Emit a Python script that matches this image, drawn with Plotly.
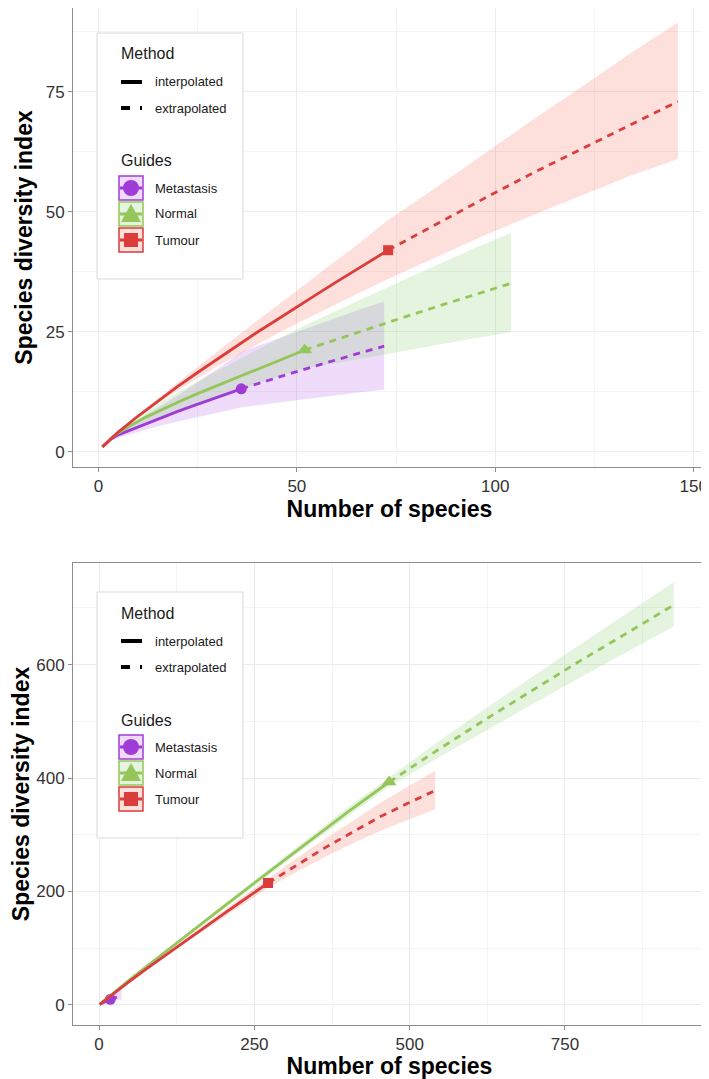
import plotly.graph_objects as go

# ---- top panel data ----
t_met_x_int = [1, 3, 5, 8, 12, 16, 20, 24, 28, 32, 36]
t_met_y_int = [1, 2.5, 3.5, 4.5, 5.9, 7.2, 8.4, 9.6, 10.8, 11.9, 13.1]
t_met_lo_int = [1, 2.2, 2.9, 3.6, 4.6, 5.5, 6.3, 7.1, 7.8, 8.5, 9.2]
t_met_hi_int = [1, 2.8, 4.1, 5.6, 7.6, 9.6, 11.7, 13.9, 16.1, 18.4, 20.8]
t_met_x_ext = [36, 42, 48, 54, 60, 66, 72]
t_met_y_ext = [13.1, 14.7, 16.2, 17.7, 19.2, 20.6, 22.0]
t_met_lo_ext = [9.2, 9.9, 10.6, 11.2, 11.8, 12.4, 12.9]
t_met_hi_ext = [20.8, 22.6, 24.4, 26.2, 28.0, 29.7, 31.3]

t_nor_x_int = [1, 3, 5, 8, 12, 16, 20, 25, 30, 35, 40, 46, 52]
t_nor_y_int = [1, 2.6, 3.9, 5.4, 7.2, 8.8, 10.3, 12.1, 13.8, 15.5, 17.2, 19.2, 21.2]
t_nor_lo_int = [1, 2.3, 3.3, 4.5, 6.0, 7.3, 8.5, 10.0, 11.4, 12.8, 14.2, 15.8, 17.4]
t_nor_hi_int = [1, 2.9, 4.5, 6.3, 8.5, 10.5, 12.4, 14.7, 16.9, 19.1, 21.3, 23.8, 26.3]
t_nor_x_ext = [52, 61, 70, 78, 87, 95, 104]
t_nor_y_ext = [21.2, 23.7, 26.2, 28.3, 30.7, 32.8, 35.1]
t_nor_lo_ext = [17.4, 18.6, 19.8, 21.0, 22.5, 23.7, 24.9]
t_nor_hi_ext = [26.3, 29.8, 33.2, 36.2, 39.5, 42.5, 45.6]

t_tum_x_int = [1, 5, 10, 15, 20, 25, 30, 35, 40, 45, 50, 55, 60, 65, 73]
t_tum_y_int = [1, 4.06, 7.43, 10.58, 13.59, 16.5, 19.35, 22.1, 24.9, 27.5, 30.2, 32.8, 35.4, 37.9, 42]
t_tum_lo_int = [1, 3.98, 7.17, 10.05, 12.77, 15.35, 17.8, 20.1, 22.4, 24.6, 26.7, 28.8, 30.8, 32.8, 36.0]
t_tum_hi_int = [1, 4.14, 7.69, 11.11, 14.41, 17.66, 20.9, 24.09, 27.3, 30.4, 33.6, 36.8, 39.9, 43.0, 48.3]
t_tum_x_ext = [73, 85, 97, 110, 122, 134, 146]
t_tum_y_ext = [42, 47.4, 52.7, 58.3, 63.2, 68.2, 73]
t_tum_lo_ext = [36, 40.5, 45, 49.5, 53.5, 57.5, 61]
t_tum_hi_ext = [48.3, 55, 62, 69.5, 76.2, 83, 89.5]

# ---- bottom panel data ----
b_met_x_int = [1, 5, 10, 14, 18]
b_met_y_int = [1, 3.5, 6, 8, 10]
b_met_lo_int = [1, 3, 5, 6.5, 7.5]
b_met_hi_int = [1, 4, 7, 9.5, 12.5]
b_met_x_ext = [18, 21, 24, 27, 30, 33, 36]
b_met_y_ext = [10, 11.2, 12.3, 13.4, 14.4, 15.4, 16.3]
b_met_lo_ext = [7.5, 8, 8.4, 8.8, 9.1, 9.4, 9.6]
b_met_hi_ext = [12.5, 15, 17.5, 20, 22.5, 25, 27.5]

b_nor_x_int = [1, 50, 100, 150, 200, 250, 300, 350, 400, 467]
b_nor_y_int = [1, 45, 88, 131, 173, 215, 257, 299, 340, 393]
b_nor_lo_int = [1, 44, 86, 128, 169, 210, 251, 292, 332, 385]
b_nor_hi_int = [1, 46, 90, 134, 177, 220, 263, 306, 348, 401]
b_nor_x_ext = [467, 543, 620, 696, 772, 849, 925]
b_nor_y_ext = [393, 448, 502, 554, 605, 655, 705]
b_nor_lo_ext = [385, 434, 482, 529, 576, 622, 667]
b_nor_hi_ext = [401, 462, 521, 578, 634, 690, 745]

b_tum_x_int = [1, 25, 50, 75, 100, 125, 150, 175, 200, 225, 250, 272]
b_tum_y_int = [1, 21.8, 42.4, 62.6, 82.4, 102.1, 121.5, 140.9, 160.1, 179.3, 198.2, 215]
b_tum_lo_int = [1, 21, 41, 60.5, 79.5, 98.5, 117, 135.5, 154, 172.5, 190.5, 206.5]
b_tum_hi_int = [1, 22.6, 43.8, 64.7, 85.3, 105.7, 126, 146.3, 166.2, 186.1, 205.9, 223.5]
b_tum_x_ext = [272, 317, 362, 407, 451, 496, 541]
b_tum_y_ext = [215, 246, 276, 304, 331, 355, 378]
b_tum_lo_ext = [206.5, 234, 260, 284, 306, 326, 345]
b_tum_hi_ext = [223.5, 258, 291, 323, 355, 384, 413]

groups = ["Metastasis", "Normal", "Tumour"]
methods = ["interpolated", "extrapolated"]
colors = {"Metastasis": "#A03CD6", "Normal": "#94C65A", "Tumour": "#DB3D3D"}
fills = {"Metastasis": "rgba(175,80,230,0.2)", "Normal": "rgba(130,205,110,0.22)",
         "Tumour": "rgba(245,110,90,0.22)"}
symbols = {"Metastasis": "circle", "Normal": "triangle-up", "Tumour": "square"}

# page is offset by the default 8px body margin
OFF = 8
W, H = 709 - OFF, 1079 - OFF
def px(x): return (x - OFF) / W
def py(y): return 1 - (y - OFF) / H

top = {
    "Metastasis": (t_met_x_int, t_met_y_int, t_met_lo_int, t_met_hi_int,
                   t_met_x_ext, t_met_y_ext, t_met_lo_ext, t_met_hi_ext),
    "Normal": (t_nor_x_int, t_nor_y_int, t_nor_lo_int, t_nor_hi_int,
               t_nor_x_ext, t_nor_y_ext, t_nor_lo_ext, t_nor_hi_ext),
    "Tumour": (t_tum_x_int, t_tum_y_int, t_tum_lo_int, t_tum_hi_int,
               t_tum_x_ext, t_tum_y_ext, t_tum_lo_ext, t_tum_hi_ext),
}
bottom = {
    "Metastasis": (b_met_x_int, b_met_y_int, b_met_lo_int, b_met_hi_int,
                   b_met_x_ext, b_met_y_ext, b_met_lo_ext, b_met_hi_ext),
    "Normal": (b_nor_x_int, b_nor_y_int, b_nor_lo_int, b_nor_hi_int,
               b_nor_x_ext, b_nor_y_ext, b_nor_lo_ext, b_nor_hi_ext),
    "Tumour": (b_tum_x_int, b_tum_y_int, b_tum_lo_int, b_tum_hi_int,
               b_tum_x_ext, b_tum_y_ext, b_tum_lo_ext, b_tum_hi_ext),
}

fig = go.Figure()

def add_panel(data, xa, ya, msize):
    # ribbons first
    for g in groups:
        xi, yi, loi, hii, xe, ye, loe, hie = data[g]
        bx = xi + xe[1:]
        bhi = hii + hie[1:]
        blo = loi + loe[1:]
        fig.add_trace(go.Scatter(x=bx + bx[::-1], y=bhi + blo[::-1], fill="toself",
                                 fillcolor=fills[g], line=dict(width=0), mode="lines",
                                 hoverinfo="skip", showlegend=False, xaxis=xa, yaxis=ya))
    for g in groups:
        xi, yi, loi, hii, xe, ye, loe, hie = data[g]
        fig.add_trace(go.Scatter(x=xi, y=yi, mode="lines", line=dict(color=colors[g], width=2.8),
                                 showlegend=False, xaxis=xa, yaxis=ya))
        fig.add_trace(go.Scatter(x=xe, y=ye, mode="lines",
                                 line=dict(color=colors[g], width=2.8, dash="7px,6px"),
                                 showlegend=False, xaxis=xa, yaxis=ya))
        fig.add_trace(go.Scatter(x=[xi[-1]], y=[yi[-1]], mode="markers",
                                 marker=dict(color=colors[g], symbol=symbols[g], size=msize[g]),
                                 showlegend=False, xaxis=xa, yaxis=ya))

add_panel(top, "x", "y", {"Metastasis": 11, "Normal": 13, "Tumour": 10})
add_panel(bottom, "x2", "y2", {"Metastasis": 11, "Normal": 13, "Tumour": 10})

# ---- legends (drawn as boxes inside each panel) ----
shapes = []
annots = []

def legend(T):
    L, R = 97, 243
    shapes.append(dict(type="rect", xref="paper", yref="paper", x0=px(L), x1=px(R),
                       y0=py(T + 246), y1=py(T), line=dict(color="#d9d9d9", width=1),
                       fillcolor="white", layer="above"))
    annots.append(dict(text="Method", x=px(119), y=py(T + 21)))
    annots.append(dict(text="Guides", x=px(119), y=py(T + 128)))
    for k, (m, dash) in enumerate(zip(methods, ["solid", "9px,10px"])):
        cy = T + 49 + 26 * k
        shapes.append(dict(type="line", xref="paper", yref="paper", x0=px(121), x1=px(142),
                           y0=py(cy), y1=py(cy), line=dict(color="black", width=4, dash=dash),
                           layer="above"))
        annots.append(dict(text=m, x=px(153), y=py(cy), size=13))
    for k, g in enumerate(groups):
        cy = T + 155 + 26 * k
        c = colors[g]
        shapes.append(dict(type="rect", xref="paper", yref="paper", x0=px(119), x1=px(143),
                           y0=py(cy + 12), y1=py(cy - 12), line=dict(color=c, width=1.5),
                           fillcolor=fills[g], layer="above"))
        shapes.append(dict(type="line", xref="paper", yref="paper", x0=px(120), x1=px(142),
                           y0=py(cy), y1=py(cy), line=dict(color=c, width=3), layer="above"))
        if g == "Metastasis":
            shapes.append(dict(type="circle", xref="paper", yref="paper", x0=px(123), x1=px(139),
                               y0=py(cy + 8), y1=py(cy - 8), line=dict(width=0),
                               fillcolor=c, layer="above"))
        elif g == "Normal":
            path = "M %f,%f L %f,%f L %f,%f Z" % (px(131), py(cy - 10), px(141), py(cy + 8),
                                                  px(121), py(cy + 8))
            shapes.append(dict(type="path", xref="paper", yref="paper", path=path,
                               line=dict(width=0), fillcolor=c, layer="above"))
        else:
            shapes.append(dict(type="rect", xref="paper", yref="paper", x0=px(124), x1=px(138),
                               y0=py(cy + 7), y1=py(cy - 7), line=dict(width=0),
                               fillcolor=c, layer="above"))
        annots.append(dict(text=g, x=px(153), y=py(cy), size=13))

legend(33)
legend(592)

annotations = []
for a in annots:
    annotations.append(dict(text=a["text"], x=a["x"], y=a["y"], xref="paper", yref="paper",
                            xanchor="left", yanchor="middle", showarrow=False,
                            font=dict(size=a.get("size", 16), color="#1a1a1a")))

axis_common = dict(showline=True, mirror=True, linecolor="#8c8c8c", linewidth=1,
                   showgrid=True, gridcolor="#ebebeb", gridwidth=1, zeroline=False,
                   ticks="outside", ticklen=4, tickcolor="#8c8c8c",
                   tickfont=dict(size=17, color="#333333"), automargin=False)
title_font = dict(size=23, color="black", family="Liberation Sans")

xdom = [px(73), px(706)]
fig.update_layout(
    width=W, height=H,
    margin=dict(l=0, r=0, t=0, b=0),
    paper_bgcolor="white", plot_bgcolor="white",
    font=dict(family="Liberation Sans"),
    showlegend=False,
    xaxis=dict(domain=xdom, range=[-6.4, 153.1], tickvals=[0, 50, 100, 150], anchor="y",
               minor=dict(dtick=25, tick0=0, showgrid=True, gridcolor="#f4f4f4", ticks=""),
               title=dict(text="<b>Number of species</b>", font=title_font, standoff=3),
               **axis_common),
    yaxis=dict(domain=[py(467), 1], range=[-3.2, 92.5], tickvals=[0, 25, 50, 75], anchor="x",
               minor=dict(dtick=12.5, tick0=0, showgrid=True, gridcolor="#f4f4f4", ticks=""),
               title=dict(text="<b>Species diversity index</b>", font=title_font, standoff=6),
               **axis_common),
    xaxis2=dict(domain=xdom, range=[-42, 977], tickvals=[0, 250, 500, 750], anchor="y2",
                minor=dict(dtick=125, tick0=0, showgrid=True, gridcolor="#f4f4f4", ticks=""),
                title=dict(text="<b>Number of species</b>", font=title_font, standoff=2),
                **axis_common),
    yaxis2=dict(domain=[py(1025), py(563)], range=[-35.3, 779], tickvals=[0, 200, 400, 600],
                anchor="x2",
                minor=dict(dtick=100, tick0=0, showgrid=True, gridcolor="#f4f4f4", ticks=""),
                title=dict(text="<b>Species diversity index</b>", font=title_font, standoff=6),
                **axis_common),
    shapes=shapes,
    annotations=annotations,
)

fig.write_html("out.html")
